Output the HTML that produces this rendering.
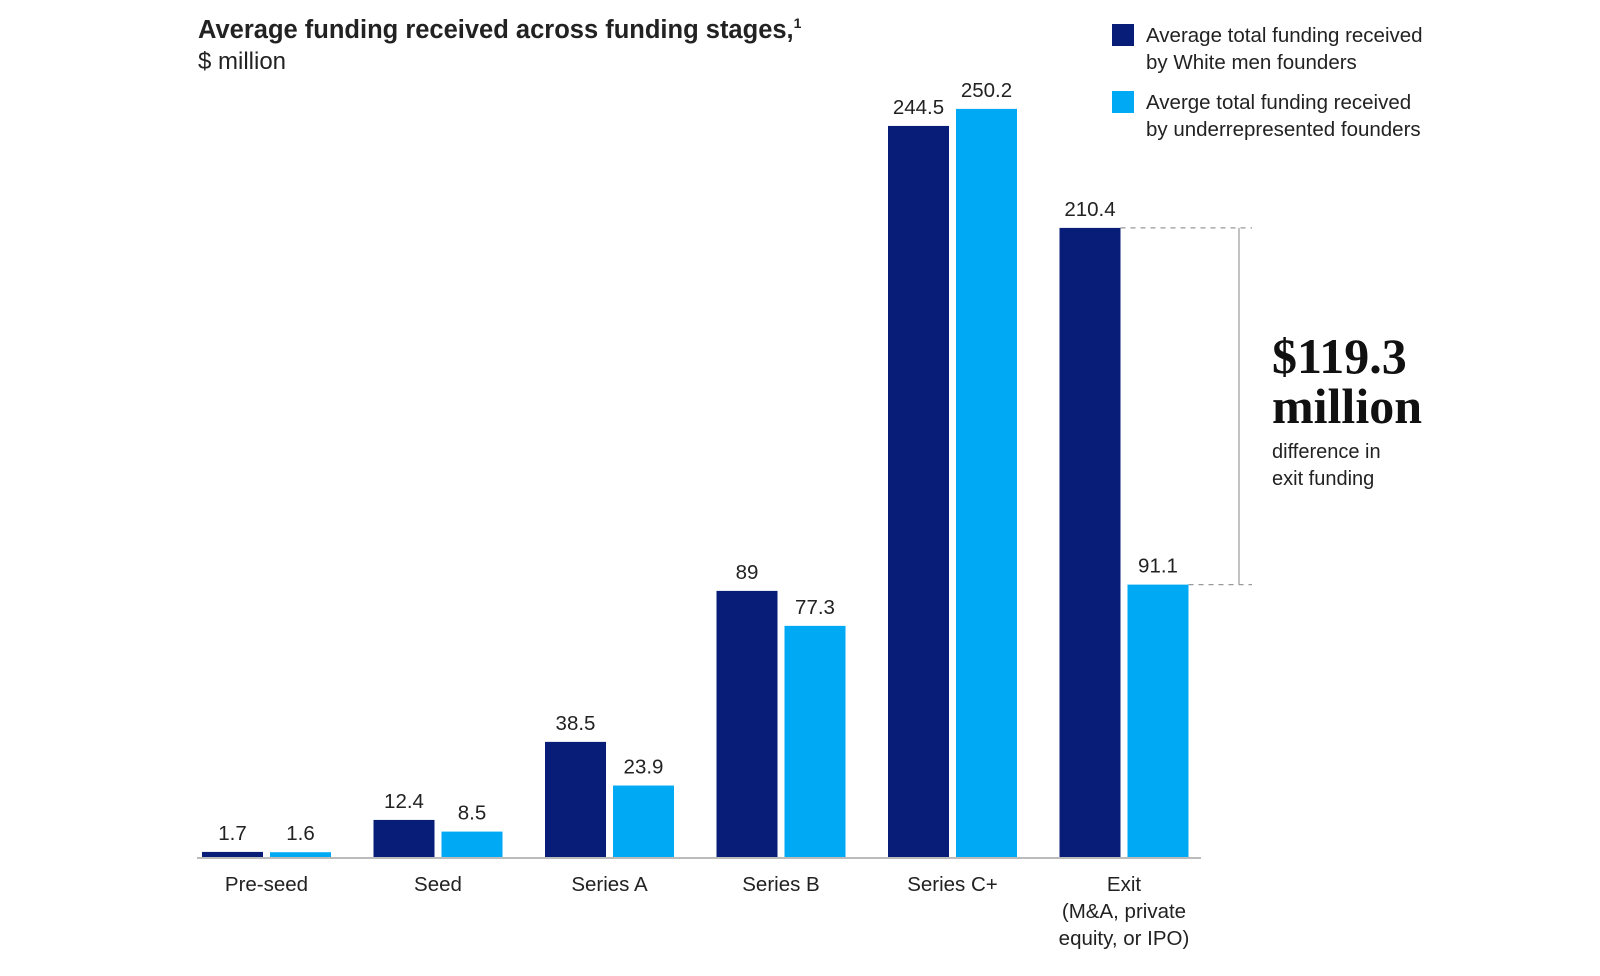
<!DOCTYPE html>
<html><head><meta charset="utf-8"><style>
body{margin:0;background:#fff;}
svg text{font-family:"Liberation Sans",sans-serif;fill:#222;}
</style></head><body>
<svg id="chart" width="1600" height="971" viewBox="0 0 1600 971">
<text x="198" y="38" font-size="25.5" font-weight="bold" fill="#111">Average funding received across funding stages,<tspan font-size="14" dy="-10">1</tspan></text>
<text x="198" y="69" font-size="24">$ million</text>
<g>
<rect x="1112" y="24" width="22" height="22" fill="#071d78"/>
<text x="1146" y="42" font-size="20.5"><tspan x="1146">Average total funding received</tspan><tspan x="1146" dy="27">by White men founders</tspan></text>
<rect x="1112" y="91" width="22" height="22" fill="#00a9f4"/>
<text x="1146" y="109" font-size="20.5"><tspan x="1146">Averge total funding received</tspan><tspan x="1146" dy="27">by underrepresented founders</tspan></text>
</g>
<g id="bars"></g>
<line x1="197" y1="858" x2="1201" y2="858" stroke="#bbb" stroke-width="2"/>
<g id="annot"></g>
<text x="1272" y="373" font-size="50" font-weight="bold" style="font-family:'Liberation Serif',serif;fill:#111">$119.3</text>
<text x="1272" y="423" font-size="50" font-weight="bold" style="font-family:'Liberation Serif',serif;fill:#111">million</text>
<text x="1272" y="458" font-size="20"><tspan x="1272">difference in</tspan><tspan x="1272" dy="27">exit funding</tspan></text>
</svg>
<script>
const categories=[["Pre-seed"],["Seed"],["Series A"],["Series B"],["Series C+"],["Exit","(M&A, private","equity, or IPO)"]];
const whiteMen=[1.7,12.4,38.5,89,244.5,210.4];
const underrep=[1.6,8.5,23.9,77.3,250.2,91.1];
const whiteLabels=["1.7","12.4","38.5","89","244.5","210.4"];
const underLabels=["1.6","8.5","23.9","77.3","250.2","91.1"];
const NS="http://www.w3.org/2000/svg";
const base=857, k=2.99, x0=202, step=171.5, bw=61, gap=7;
const y=v=>base-v*k;
const xg=i=>x0+i*step;
const g=document.getElementById('bars');
function mk(t,a,parent){const e=document.createElementNS(NS,t);for(const n in a)e.setAttribute(n,a[n]);(parent||g).appendChild(e);return e;}
categories.forEach((c,i)=>{
  [[whiteMen,whiteLabels,"#071d78",0,"white-men"],[underrep,underLabels,"#00a9f4",bw+gap,"underrepresented"]].forEach(([arr,lab,col,off,nm])=>{
    const v=arr[i];
    const r=mk('rect',{x:xg(i)+off,y:y(v),width:bw,height:v*k,fill:col});
    
    
    const t=mk('text',{x:xg(i)+off+bw/2,y:y(v)-12,'font-size':20.5,'text-anchor':'middle'});
    t.textContent=lab[i];
    
    
  });
  const cx=xg(i)+bw+gap/2;
  const t=mk('text',{x:cx,y:891,'font-size':20.5,'text-anchor':'middle'});
  c.forEach((line,j)=>{const s=mk('tspan',{x:cx,dy:j?27:0},t);s.textContent=line;});
  
  
});
const an=document.getElementById('annot');
const e=5, yt=y(whiteMen[e]), yb=y(underrep[e]);
let l=mk('line',{x1:xg(e)+bw,y1:yt,x2:1252,y2:yt,stroke:'#999','stroke-width':1.2,'stroke-dasharray':'5,5'},an);

l=mk('line',{x1:xg(e)+2*bw+gap,y1:yb,x2:1252,y2:yb,stroke:'#999','stroke-width':1.2,'stroke-dasharray':'5,5'},an);

l=mk('line',{x1:1239,y1:yt,x2:1239,y2:yb,stroke:'#999','stroke-width':1.2},an);

</script>
</body></html>
